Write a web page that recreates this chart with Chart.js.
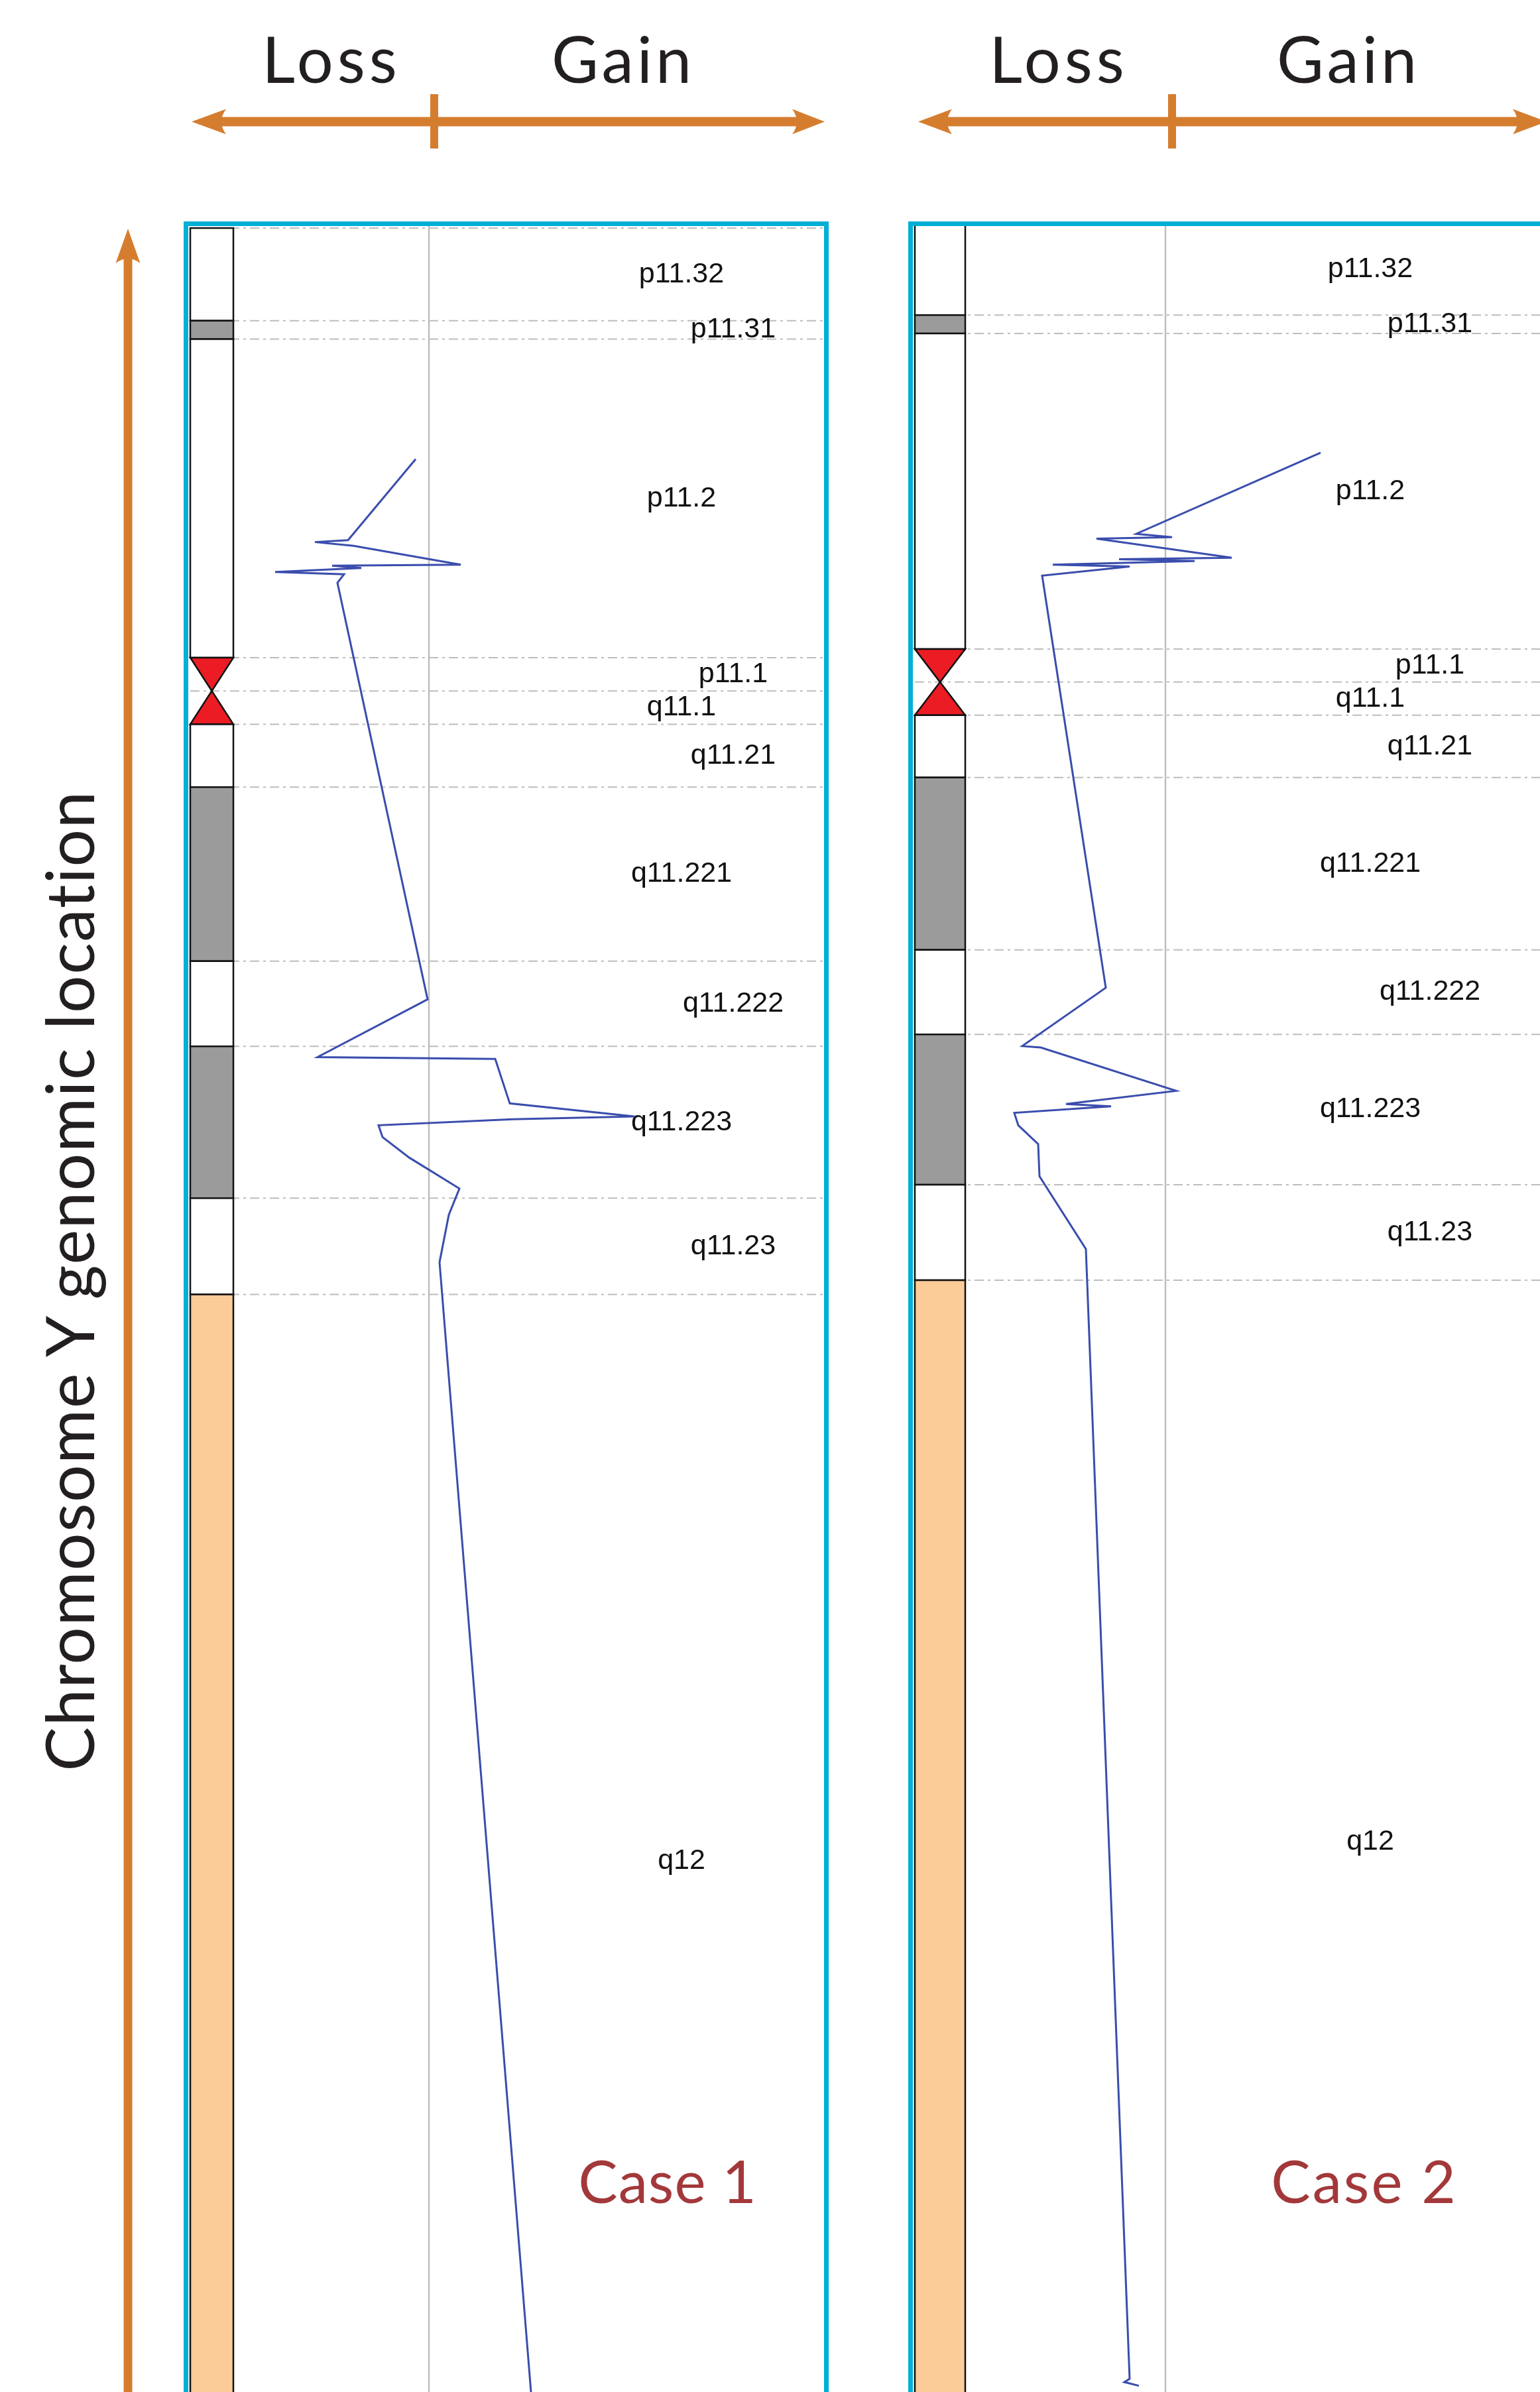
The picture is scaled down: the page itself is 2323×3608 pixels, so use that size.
<!DOCTYPE html>
<html>
<head>
<meta charset="utf-8">
<script src="https://cdn.jsdelivr.net/npm/chart.js@4.4.1/dist/chart.umd.min.js"></script>
<style>
  html, body { margin: 0; padding: 0; background: #ffffff; }
  body { width: 2323px; height: 3608px; overflow: hidden; position: relative; }
  canvas { position: absolute; z-index: 1; }
  .frame { position: absolute; box-sizing: border-box; border: 7px solid #00AFD5; z-index: 3; pointer-events: none; }
  #ov { position: absolute; left: 0; top: 0; z-index: 4; pointer-events: none; }
</style>
</head>
<body>
<canvas id="case1" width="959" height="3267" style="left:284px; top:341px;"></canvas>
<canvas id="case2" width="960" height="3271" style="left:1377px; top:337px;"></canvas>
<div class="frame" style="left:277px; top:334px; width:973px; height:3420px;"></div>
<div class="frame" style="left:1370px; top:334px; width:973px; height:3420px;"></div>
<svg id="ov" width="2323" height="3608" xmlns="http://www.w3.org/2000/svg">
  <g fill="#D57D2F">
    <rect x="330" y="176.5" width="876" height="14"/>
    <path d="M289,183.5 L341,164.5 Q327,183.5 341,202.5 Z"/>
    <path d="M1244,183.5 L1195,164.5 Q1209,183.5 1195,202.5 Z"/>
    <rect x="649" y="142" width="12" height="82"/>
    <rect x="1425" y="176.5" width="870" height="14"/>
    <path d="M1385,183.5 L1436,164.5 Q1422,183.5 1436,202.5 Z"/>
    <path d="M2333,183.5 L2282,164.5 Q2296,183.5 2282,202.5 Z"/>
    <rect x="1762" y="142" width="12" height="82"/>
    <rect x="186.5" y="385" width="13" height="3300"/>
    <path d="M193,345 L174.5,397 Q193,383 211.5,397 Z"/>
  </g>
  <g id="texts"></g>
</svg>
<script>
// ---------------- data ----------------
const bandNames  = ['p11.32','p11.31','p11.2','p11.1','q11.1','q11.21','q11.221','q11.222','q11.223','q11.23','q12'];
const bandStartMb = [0, 2.5, 3.0, 11.6, 12.5, 13.4, 15.1, 19.8, 22.1, 26.2, 28.8];
const bandEndMb   = [2.5, 3.0, 11.6, 12.5, 13.4, 15.1, 19.8, 22.1, 26.2, 28.8, 59.4];
const bandStain   = ['gneg','gpos','gneg','acenP','acenQ','gneg','gpos','gneg','gpos','gneg','gvar'];

// Case 1 copy-number profile (position in Mb, relative ratio; 0 = no change)
const case1PosMb = [6.24, 8.43, 8.48, 8.58, 9.09, 9.12, 9.18, 9.29, 9.35, 9.58, 20.83, 22.39, 22.44, 23.64, 23.99, 24.07, 24.23, 24.55, 25.10, 25.94, 26.65, 27.93, 58.44];
const case1Ratio = [-0.10, -0.61, -0.86, -0.57, 0.24, -0.73, -0.51, -1.16, -0.64, -0.69, -0.01, -0.84, 0.50, 0.61, 1.55, 0.63, -0.38, -0.35, -0.15, 0.23, 0.15, 0.08, 0.77];

// Case 2 copy-number profile
const case2PosMb = [6.25, 8.46, 8.55, 8.59, 9.11, 9.15, 9.20, 9.30, 9.35, 9.60, 20.83, 22.42, 22.46, 23.64, 24.00, 24.06, 24.24, 24.58, 25.09, 25.97, 27.95, 58.74, 58.83, 58.93];
const case2Ratio = [1.17, -0.22, 0.05, -0.52, 0.50, -0.35, 0.22, -0.85, -0.27, -0.93, -0.45, -1.08, -0.94, 0.08, -0.75, -0.41, -1.14, -1.11, -0.96, -0.95, -0.60, -0.27, -0.31, -0.20];

const directionLabels = ['Loss', 'Gain'];
const caseTitles = ['Case 1', 'Case 2'];
const yAxisTitle = 'Chromosome Y genomic location';

// ---------------- ideogram plugin ----------------
const stainColor = { gneg: '#FFFFFF', gpos: '#9B9B9B', acenP: '#EC1C24', acenQ: '#EC1C24', gvar: '#FBCB98' };

const ideogramPlugin = {
  id: 'ideogram',
  beforeDatasetsDraw(chart, args, opts) {
    const { ctx, chartArea, scales: { x, y } } = chart;
    ctx.save();
    // zero line
    const x0 = x.getPixelForValue(0);
    ctx.strokeStyle = '#BEBEBE';
    ctx.lineWidth = 2.5;
    ctx.beginPath();
    ctx.moveTo(x0, 0);
    ctx.lineTo(x0, chart.height);
    ctx.stroke();

    const xl = x.getPixelForValue(opts.ideoLeft);
    const xr = x.getPixelForValue(opts.ideoRight);
    const xm = (xl + xr) / 2;

    // dash-dot band boundaries
    ctx.setLineDash([14, 6, 4, 6]);
    ctx.strokeStyle = '#BDBDBD';
    ctx.lineWidth = 2;
    bandStartMb.forEach(v => {
      const py = y.getPixelForValue(v);
      ctx.beginPath();
      ctx.moveTo(xl, py);
      ctx.lineTo(chartArea.right, py);
      ctx.stroke();
    });
    ctx.setLineDash([]);

    // bands
    ctx.lineWidth = 2.5;
    ctx.strokeStyle = '#111111';
    bandNames.forEach((n, i) => {
      const t = y.getPixelForValue(bandStartMb[i]);
      const b = y.getPixelForValue(bandEndMb[i]);
      const st = bandStain[i];
      ctx.fillStyle = stainColor[st];
      ctx.beginPath();
      if (st === 'acenP') {
        ctx.moveTo(xl, t); ctx.lineTo(xr, t); ctx.lineTo(xm, b); ctx.closePath();
      } else if (st === 'acenQ') {
        ctx.moveTo(xm, t); ctx.lineTo(xr, b); ctx.lineTo(xl, b); ctx.closePath();
      } else {
        ctx.rect(xl, t, xr - xl, b - t);
      }
      ctx.fill();
      ctx.stroke();
    });

    // band labels
    ctx.fillStyle = '#111111';
    ctx.font = '43px "Liberation Sans", Arial, sans-serif';
    ctx.textAlign = 'center';
    ctx.textBaseline = 'middle';
    bandNames.forEach((n, i) => {
      const mid = (bandStartMb[i] + bandEndMb[i]) / 2;
      const lx = x.getPixelForValue(i % 2 === 0 ? opts.labelA : opts.labelB);
      ctx.fillText(n, lx, y.getPixelForValue(mid));
    });
    ctx.restore();
  }
};

function makeChart(id, pos, ratio, cfg) {
  return new Chart(document.getElementById(id), {
    type: 'scatter',
    data: {
      datasets: [{
        data: pos.map((p, i) => ({ x: ratio[i], y: p })),
        showLine: true,
        borderColor: '#3A4DAD',
        backgroundColor: '#3A4DAD',
        borderWidth: 3,
        pointRadius: 0,
        tension: 0,
        fill: false
      }]
    },
    options: {
      responsive: false,
      animation: false,
      devicePixelRatio: 1,
      layout: { padding: { top: cfg.padTop, left: 0, right: 0, bottom: 0 } },
      plugins: {
        legend: { display: false },
        tooltip: { enabled: false },
        ideogram: cfg.ideo
      },
      scales: {
        x: { type: 'linear', min: cfg.xMin, max: cfg.xMax, display: false },
        y: { type: 'linear', reverse: true, min: 0, max: cfg.yMax, display: false }
      }
    },
    plugins: [ideogramPlugin]
  });
}

makeChart('case1', case1PosMb, case1Ratio, {
  padTop: 3, xMin: -1.815, xMax: 2.98, yMax: 58.44,
  ideo: { ideoLeft: -1.80, ideoRight: -1.475, labelA: 1.905, labelB: 2.295 }
});
makeChart('case2', case2PosMb, case2Ratio, {
  padTop: 0, xMin: -1.905, xMax: 2.895, yMax: 59.10,
  ideo: { ideoLeft: -1.89, ideoRight: -1.51, labelA: 1.545, labelB: 1.995 }
});

// ---------------- text overlay ----------------
const NS = 'http://www.w3.org/2000/svg';
const g = document.getElementById('texts');
function addText(str, x, y, size, color, spacing, extra) {
  const t = document.createElementNS(NS, 'text');
  t.setAttribute('x', x);
  t.setAttribute('y', y);
  t.setAttribute('text-anchor', 'middle');
  t.setAttribute('font-family', 'Lato, "Open Sans", sans-serif');
  t.setAttribute('font-size', size);
  t.setAttribute('fill', color);
  if (spacing) t.setAttribute('letter-spacing', spacing);
  if (extra) t.setAttribute('transform', extra);
  t.textContent = str;
  g.appendChild(t);
}
addText(directionLabels[0], 500, 125, 97, '#231F20', 6);
addText(directionLabels[1], 940, 125, 97, '#231F20', 5);
addText(directionLabels[0], 1597, 125, 97, '#231F20', 6);
addText(directionLabels[1], 2034, 125, 97, '#231F20', 5);
addText(yAxisTitle, 0, 0, 100, '#231F20', 1.4, 'translate(142,1932) rotate(-90)');
addText(caseTitles[0], 1007, 3323, 89, '#A3383A', 1);
addText(caseTitles[1], 2058, 3323, 89, '#A3383A', 3);
</script>
</body>
</html>
